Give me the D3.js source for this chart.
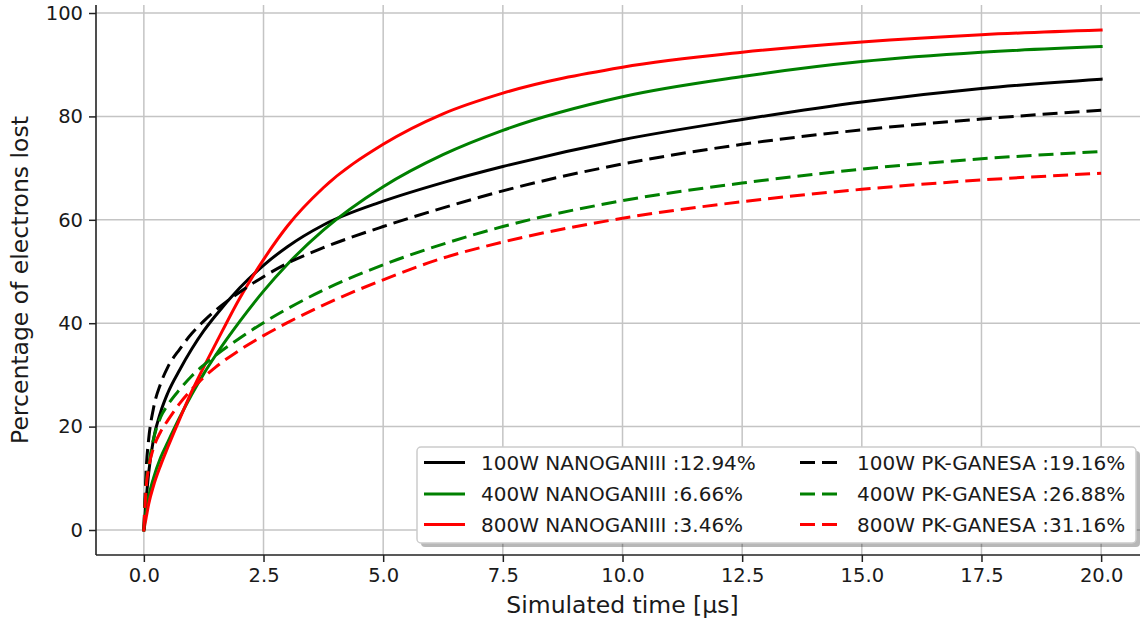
<!DOCTYPE html>
<html>
<head>
<meta charset="utf-8">
<script src="https://cdn.jsdelivr.net/npm/d3@7"></script>
<style>
  html, body { margin: 0; padding: 0; background: #ffffff; }
  svg text { font-family: "DejaVu Sans", sans-serif; fill: #1a1a1a; }
</style>
</head>
<body>
<svg id="chart" width="1140" height="619"></svg>
<script>
// ---- data ----
const times = [0, 0.05, 0.1, 0.2, 0.35, 0.5, 0.75, 1.0, 1.25, 1.5, 2.0, 2.5, 3.0, 3.75, 5.0, 6.25, 7.5, 10, 12.5, 15, 17.5, 20];
const nano100 = [0, 6, 11, 17.5, 22.8, 26.5, 31, 35, 38.5, 41.5, 46.8, 51.2, 54.8, 59.0, 63.6, 67.2, 70.3, 75.5, 79.4, 82.8, 85.4, 87.2];
const nano400 = [0, 4, 6.5, 10, 14, 17, 21.8, 26.2, 30.2, 33.8, 40.3, 46.2, 51.4, 58.0, 66.4, 72.6, 77.3, 83.8, 87.7, 90.6, 92.4, 93.5];
const nano800 = [0, 2.5, 5, 8.5, 12.5, 16, 21.5, 26.8, 31.5, 36, 44.8, 52.3, 58.8, 66.2, 74.6, 80.5, 84.5, 89.5, 92.4, 94.4, 95.8, 96.7];
const pk100 = [0, 12, 17.5, 23.5, 28.3, 31.5, 35, 38, 40.4, 42.5, 46, 49, 51.6, 54.6, 58.7, 62.3, 65.6, 70.8, 74.6, 77.4, 79.5, 81.2];
const pk400 = [0, 9, 12.5, 17.5, 21.8, 24.2, 27.2, 29.8, 31.9, 33.8, 37.1, 40.1, 42.8, 46.4, 51.3, 55.3, 58.7, 63.7, 67.1, 69.8, 71.8, 73.2];
const pk800 = [0, 8.5, 12, 15.8, 19, 21.2, 24.5, 27.2, 29.5, 31.5, 34.8, 37.6, 40.1, 43.5, 48.4, 52.6, 55.7, 60.3, 63.5, 65.9, 67.7, 69.0];

const seriesNames = ["100W NANOGANIII :12.94%", "400W NANOGANIII :6.66%", "800W NANOGANIII :3.46%",
                     "100W PK-GANESA :19.16%", "400W PK-GANESA :26.88%", "800W PK-GANESA :31.16%"];
const seriesValues = [nano100, nano400, nano800, pk100, pk400, pk800];
const seriesColors = ["#000000", "#008000", "#ff0000", "#000000", "#008000", "#ff0000"];
const seriesDashed = [false, false, false, true, true, true];

const xTicks = [0, 2.5, 5, 7.5, 10, 12.5, 15, 17.5, 20];
const yTicks = [0, 20, 40, 60, 80, 100];
const xTitle = "Simulated time [µs]";
const yTitle = "Percentage of electrons lost";

// ---- layout ----
const svg = d3.select("#chart");
const pLeft = 96, pRight = 1149, pTop = 5, pBottom = 555;

const x = d3.scaleLinear().domain([-1, 21]).range([pLeft, pRight]);
const y = d3.scaleLinear().domain([-4.836, 101.55]).range([pBottom, pTop]);

// grid
const grid = svg.append("g");
grid.selectAll("line.gx").data(xTicks).enter().append("line")
  .attr("x1", d => x(d)).attr("x2", d => x(d))
  .attr("y1", pTop).attr("y2", pBottom)
  .attr("stroke", "#c4c4c4").attr("stroke-width", 1.5);
grid.selectAll("line.gy").data(yTicks).enter().append("line")
  .attr("x1", pLeft).attr("x2", pRight)
  .attr("y1", d => y(d)).attr("y2", d => y(d))
  .attr("stroke", "#c4c4c4").attr("stroke-width", 1.5);

// axes
const xAxis = d3.axisBottom(x).tickValues(xTicks).tickFormat(d3.format(".1f")).tickSize(7).tickPadding(6);
const yAxis = d3.axisLeft(y).tickValues(yTicks).tickFormat(d3.format("d")).tickSize(7).tickPadding(6);

const gx = svg.append("g").attr("transform", `translate(0,${pBottom})`).call(xAxis);
const gy = svg.append("g").attr("transform", `translate(${pLeft},0)`).call(yAxis);
[gx, gy].forEach(g => {
  g.select(".domain").remove();
  g.selectAll(".tick line").attr("stroke", "#222").attr("stroke-width", 1.5);
  g.selectAll(".tick text").attr("font-size", 19.5).attr("fill", "#1a1a1a")
    .attr("font-family", "DejaVu Sans, sans-serif");
});

// spines (left & bottom)
svg.append("line").attr("x1", pLeft).attr("x2", pLeft).attr("y1", pTop).attr("y2", pBottom)
  .attr("stroke", "#222").attr("stroke-width", 1.6);
svg.append("line").attr("x1", pLeft).attr("x2", pRight).attr("y1", pBottom).attr("y2", pBottom)
  .attr("stroke", "#222").attr("stroke-width", 1.6);

// lines
const line = d3.line().x(d => x(d[0])).y(d => y(d[1])).curve(d3.curveMonotoneX);
seriesValues.forEach((vals, i) => {
  const pts = times.map((t, k) => [t, vals[k]]);
  svg.append("path").datum(pts)
    .attr("d", line)
    .attr("fill", "none")
    .attr("stroke", seriesColors[i])
    .attr("stroke-width", 3)
    .attr("stroke-linecap", seriesDashed[i] ? "butt" : "square")
    .attr("stroke-linejoin", "round")
    .attr("stroke-dasharray", seriesDashed[i] ? "15,7" : null);
});

// axis titles
svg.append("text").attr("x", (pLeft + pRight) / 2).attr("y", 613)
  .attr("text-anchor", "middle").attr("font-size", 23.5).text(xTitle);
svg.append("text").attr("transform", `translate(28,${(pTop + pBottom) / 2}) rotate(-90)`)
  .attr("text-anchor", "middle").attr("font-size", 23.5).text(yTitle);

// legend
const lg = svg.append("g");
const bx = 417, by = 447, bw = 719, bh = 96;
lg.append("rect").attr("x", bx + 4).attr("y", by + 4).attr("width", bw).attr("height", bh)
  .attr("rx", 4).attr("fill", "#000").attr("opacity", 0.28);
lg.append("rect").attr("x", bx).attr("y", by).attr("width", bw).attr("height", bh)
  .attr("rx", 4).attr("fill", "#fff").attr("stroke", "#cccccc").attr("stroke-width", 1.5);
const rowY = [462.5, 494, 524.5];
const colX = [[424, 465, 481], [800, 840, 857]];
seriesNames.forEach((name, i) => {
  const c = Math.floor(i / 3), r = i % 3;
  const cy = rowY[r];
  lg.append("line").attr("x1", colX[c][0]).attr("x2", colX[c][1]).attr("y1", cy).attr("y2", cy)
    .attr("stroke", seriesColors[i]).attr("stroke-width", 3)
    .attr("stroke-dasharray", seriesDashed[i] ? "15,7" : null);
  lg.append("text").attr("x", colX[c][2]).attr("y", cy).attr("dy", "0.36em")
    .attr("font-size", 20).text(name);
});
</script>
</body>
</html>
